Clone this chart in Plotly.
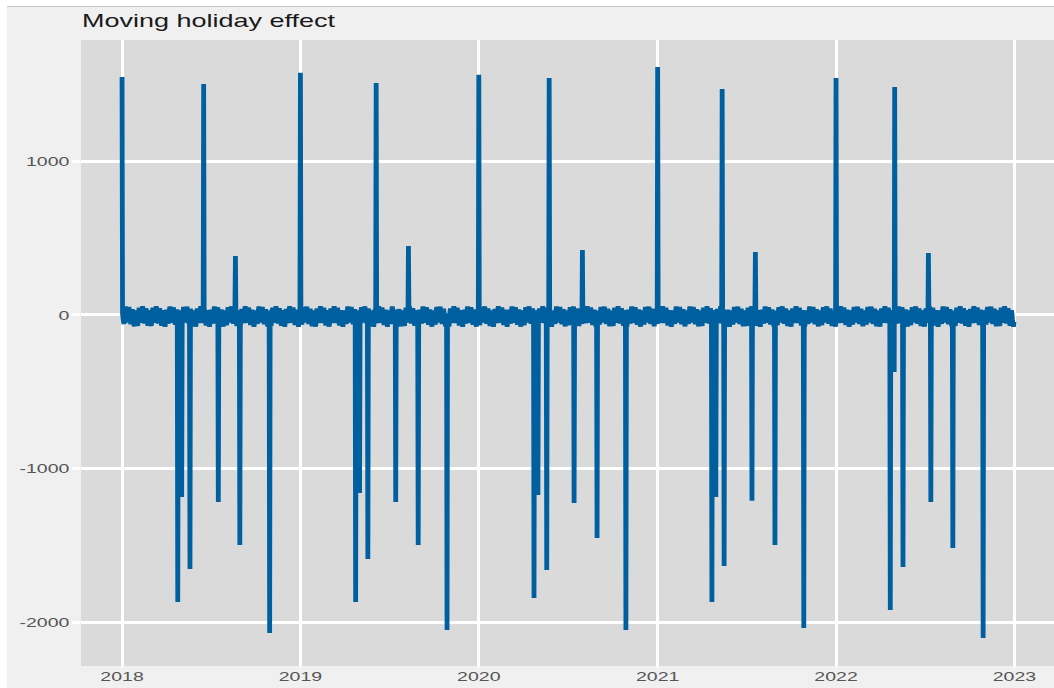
import pandas as pd
import plotly.graph_objects as go

# Axis ticks
year_ticks = ["2018-01-01", "2019-01-01", "2020-01-01", "2021-01-01", "2022-01-01", "2023-01-01"]
year_labels = ["2018", "2019", "2020", "2021", "2022", "2023"]
y_ticks = [-2000, -1000, 0, 1000]
y_labels = ["-2000", "-1000", "0", "1000"]

# Day-to-day wiggle of the holiday component outside holidays
weekday_effect = [42, 18, -16, -44, -62, -30, 24]  # Mon .. Sun
day_of_month_effect = [-14, -9, -4, 0, 4, 7, 10, 12, 13, 14, 14, 14, 13, 12, 10, 8,
                       6, 4, 2, 0, -2, -5, -7, -9, -11, -12, -13, -14, -14, -14, -14]

# Positive holiday peaks
peak_dates = ["2018-01-01", "2018-06-17", "2018-08-21",
              "2019-01-01", "2019-06-05", "2019-08-10",
              "2020-01-01", "2020-05-24", "2020-07-31",
              "2021-01-01", "2021-05-13", "2021-07-20",
              "2022-01-01", "2022-05-01", "2022-07-09"]
peak_values = [1549, 1504, 384,
               1576, 1510, 449,
               1563, 1543, 423,
               1615, 1471, 410,
               1543, 1484, 404]

# Negative holiday troughs
trough_dates = ["2018-04-25", "2018-05-03", "2018-05-20", "2018-07-17", "2018-08-30", "2018-10-30",
                "2019-04-24", "2019-05-02", "2019-05-19", "2019-07-15", "2019-08-30", "2019-10-28",
                "2020-04-23", "2020-05-01", "2020-05-19", "2020-07-14", "2020-08-30", "2020-10-28",
                "2021-04-22", "2021-04-30", "2021-05-17", "2021-07-13", "2021-08-29", "2021-10-27",
                "2022-04-22", "2022-04-30", "2022-05-18", "2022-07-14", "2022-08-28", "2022-10-29"]
trough_values = [-1868, -1185, -1654, -1217, -1497, -2070,
                 -1868, -1159, -1589, -1217, -1497, -2051,
                 -1842, -1172, -1660, -1224, -1452, -2051,
                 -1868, -1185, -1634, -1210, -1497, -2038,
                 -1921, -371, -1641, -1217, -1517, -2103]

days = pd.date_range("2018-01-01", "2022-12-31", freq="D")
effect = pd.Series(
    [weekday_effect[d.dayofweek] + day_of_month_effect[d.day - 1] for d in days],
    index=days, dtype=float,
)
effect.loc[pd.to_datetime(peak_dates)] = peak_values
effect.loc[pd.to_datetime(trough_dates)] = trough_values

LINE = "#00609F"
PANEL = "#DADADA"
OUTER = "#F0F0F0"
FONT = "Liberation Sans, Arial, sans-serif"

fig = go.Figure(
    go.Scatter(
        x=effect.index, y=effect.values, mode="lines",
        line=dict(color=LINE, width=4.8, simplify=False),
        hoverinfo="skip",
    )
)

# plot area in pixels: x 81..1054, y 40..666
W, H = 1054, 688
L, R, T, B = 81, 0, 40, 22
pw, ph = W - L - R, H - T - B


def px_x(p):
    return (p - L) / pw


def px_y(p):
    return (H - B - p) / ph


fig.update_layout(
    width=W, height=H,
    margin=dict(l=L, r=R, t=T, b=B, pad=0),
    paper_bgcolor=OUTER,
    plot_bgcolor=PANEL,
    showlegend=False,
    font=dict(family=FONT, size=13, color="#555555"),
    xaxis=dict(
        range=["2017-10-09", "2023-03-23"],
        tickvals=year_ticks, ticktext=year_labels,
        showgrid=True, gridcolor="white", gridwidth=3,
        zeroline=False, showline=False,
        ticks="outside", ticklen=1, tickwidth=3, tickcolor="white",
        ticklabelstandoff=-3,
        tickfont=dict(family=FONT, size=13, color="#555555"),
    ),
    yaxis=dict(
        range=[-2285, 1790],
        tickvals=y_ticks, ticktext=y_labels,
        showgrid=True, gridcolor="white", gridwidth=2.5,
        zeroline=False, showline=False,
        ticks="outside", ticklen=8, tickwidth=2.5, tickcolor="white",
        tickfont=dict(family=FONT, size=13, color="#555555"),
    ),
    annotations=[dict(
        text="Moving holiday effect", xref="paper", yref="paper",
        x=px_x(80), y=px_y(33), xanchor="left", yanchor="bottom",
        showarrow=False, font=dict(family=FONT, size=18, color="#1A1A1A"),
    )],
    shapes=[
        dict(type="rect", xref="paper", yref="paper", layer="above",
             x0=px_x(0), x1=px_x(W), y0=px_y(6), y1=px_y(0),
             fillcolor="white", line=dict(width=0)),
        dict(type="rect", xref="paper", yref="paper", layer="above",
             x0=px_x(0), x1=px_x(7), y0=px_y(H), y1=px_y(0),
             fillcolor="white", line=dict(width=0)),
        dict(type="line", xref="paper", yref="paper", layer="above",
             x0=px_x(7), x1=px_x(W), y0=px_y(6.5), y1=px_y(6.5),
             line=dict(color="#C8C8C8", width=1)),
    ],
)

# Wide lettering: stretch every label horizontally about its anchor point
stretch_js = """
var gd = document.getElementById('{plot_id}');
gd.querySelectorAll('text').forEach(function (t) {
  var bb = t.getBBox();
  if (!bb.width) return;
  var a = t.getAttribute('text-anchor') || 'start';
  var px = a === 'end' ? bb.x + bb.width : (a === 'middle' ? bb.x + bb.width / 2 : bb.x);
  if (t.closest('.annotation')) px = bb.x;
  var tr = t.getAttribute('transform') || '';
  t.setAttribute('transform', tr + ' translate(' + px + ',0) scale(1.5,1) translate(' + (-px) + ',0)');
});
"""

fig.write_html("out.html", config={"displayModeBar": False}, post_script=stretch_js)
